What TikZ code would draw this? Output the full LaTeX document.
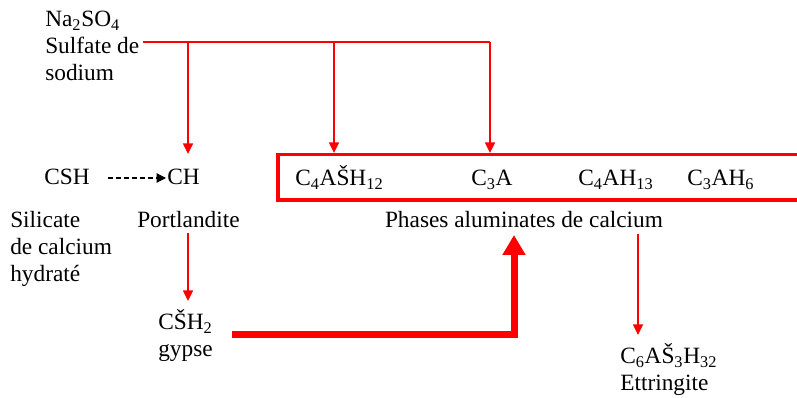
\documentclass[tikz,border=0pt]{standalone}
\usepackage{fontspec}
\setmainfont{Liberation Serif}
\usetikzlibrary{arrows.meta}
\begin{document}
\begin{tikzpicture}[x=0.75pt,y=-0.75pt,
  lbl/.style={inner sep=0pt,anchor=base west,align=left,font=\fontsize{17.5}{20.25}\selectfont},
  redln/.style={draw=red,line width=1.1pt},
  redarr/.style={redln,-{Triangle[width=7.5pt,length=8pt]}},
  bigarr/.style={draw=red,line width=5.25pt,-{Triangle[width=16.5pt,length=15pt]}},
  dasharr/.style={draw=black,line width=0.8pt,dash pattern=on 3.5pt off 2.5pt,-{Triangle[width=7pt,length=7pt]}},
  phasebox/.style={draw=red,line width=2.4pt}]
\useasboundingbox (0,0) rectangle (797,398);
% texts (multi-line nodes: base = baseline of last line)
\node[lbl] (na) at (45,81) {Na\textsubscript{2}SO\textsubscript{4}\\Sulfate de\\sodium};
\node[lbl] (csh) at (44,185) {CSH};
\node[lbl] (ch) at (167,185) {CH};
\node[lbl] (sil) at (10,282) {Silicate\\de calcium\\hydraté};
\node[lbl] (port) at (137,228) {Portlandite};
\node[lbl] (c4ash) at (295,186) {C\textsubscript{4}AŠH\textsubscript{12}};
\node[lbl] (c3a) at (471,186) {C\textsubscript{3}A};
\node[lbl] (c4ah) at (578,186) {C\textsubscript{4}AH\textsubscript{13}};
\node[lbl] (c3ah) at (687,186) {C\textsubscript{3}AH\textsubscript{6}};
\node[lbl,anchor=base] (phases) at (524,228) {Phases aluminates de calcium};
\node[lbl] (gyp) at (158,357) {CŠH\textsubscript{2}\\gypse};
\node[lbl] (ett) at (620,391) {C\textsubscript{6}AŠ\textsubscript{3}H\textsubscript{32}\\Ettringite};
% box (open on the right)
\draw[phasebox] (800,154.5) -- (278,154.5) -- (278,200) -- (800,200);
% coordinates
\coordinate (s0) at (143,42);
\coordinate (s1) at (188,42);
\coordinate (s2) at (334,42);
\coordinate (s3) at (490,42);
\coordinate (t1) at (188,154);
\coordinate (t2) at (334,153);
\coordinate (t3) at (490,153);
\coordinate (d0) at (108,178);
\coordinate (d1) at (166,178);
\coordinate (p0) at (188,233);
\coordinate (p1) at (188,301);
\coordinate (g0) at (232,335);
\coordinate (g1) at (514,335);
\coordinate (g2) at (514,235);
\coordinate (e0) at (638,234);
\coordinate (e1) at (638,335);
% connectors
\draw[redln] (s0) -- (s3);
\draw[redarr] (s1) -- (t1);
\draw[redarr] (s2) -- (t2);
\draw[redarr] (s3) -- (t3);
\draw[dasharr] (d0) -- (d1);
\draw[redarr] (p0) -- (p1);
\draw[bigarr] (g0) -- (g1) -- (g2);
\draw[redarr] (e0) -- (e1);
\end{tikzpicture}
\end{document}
